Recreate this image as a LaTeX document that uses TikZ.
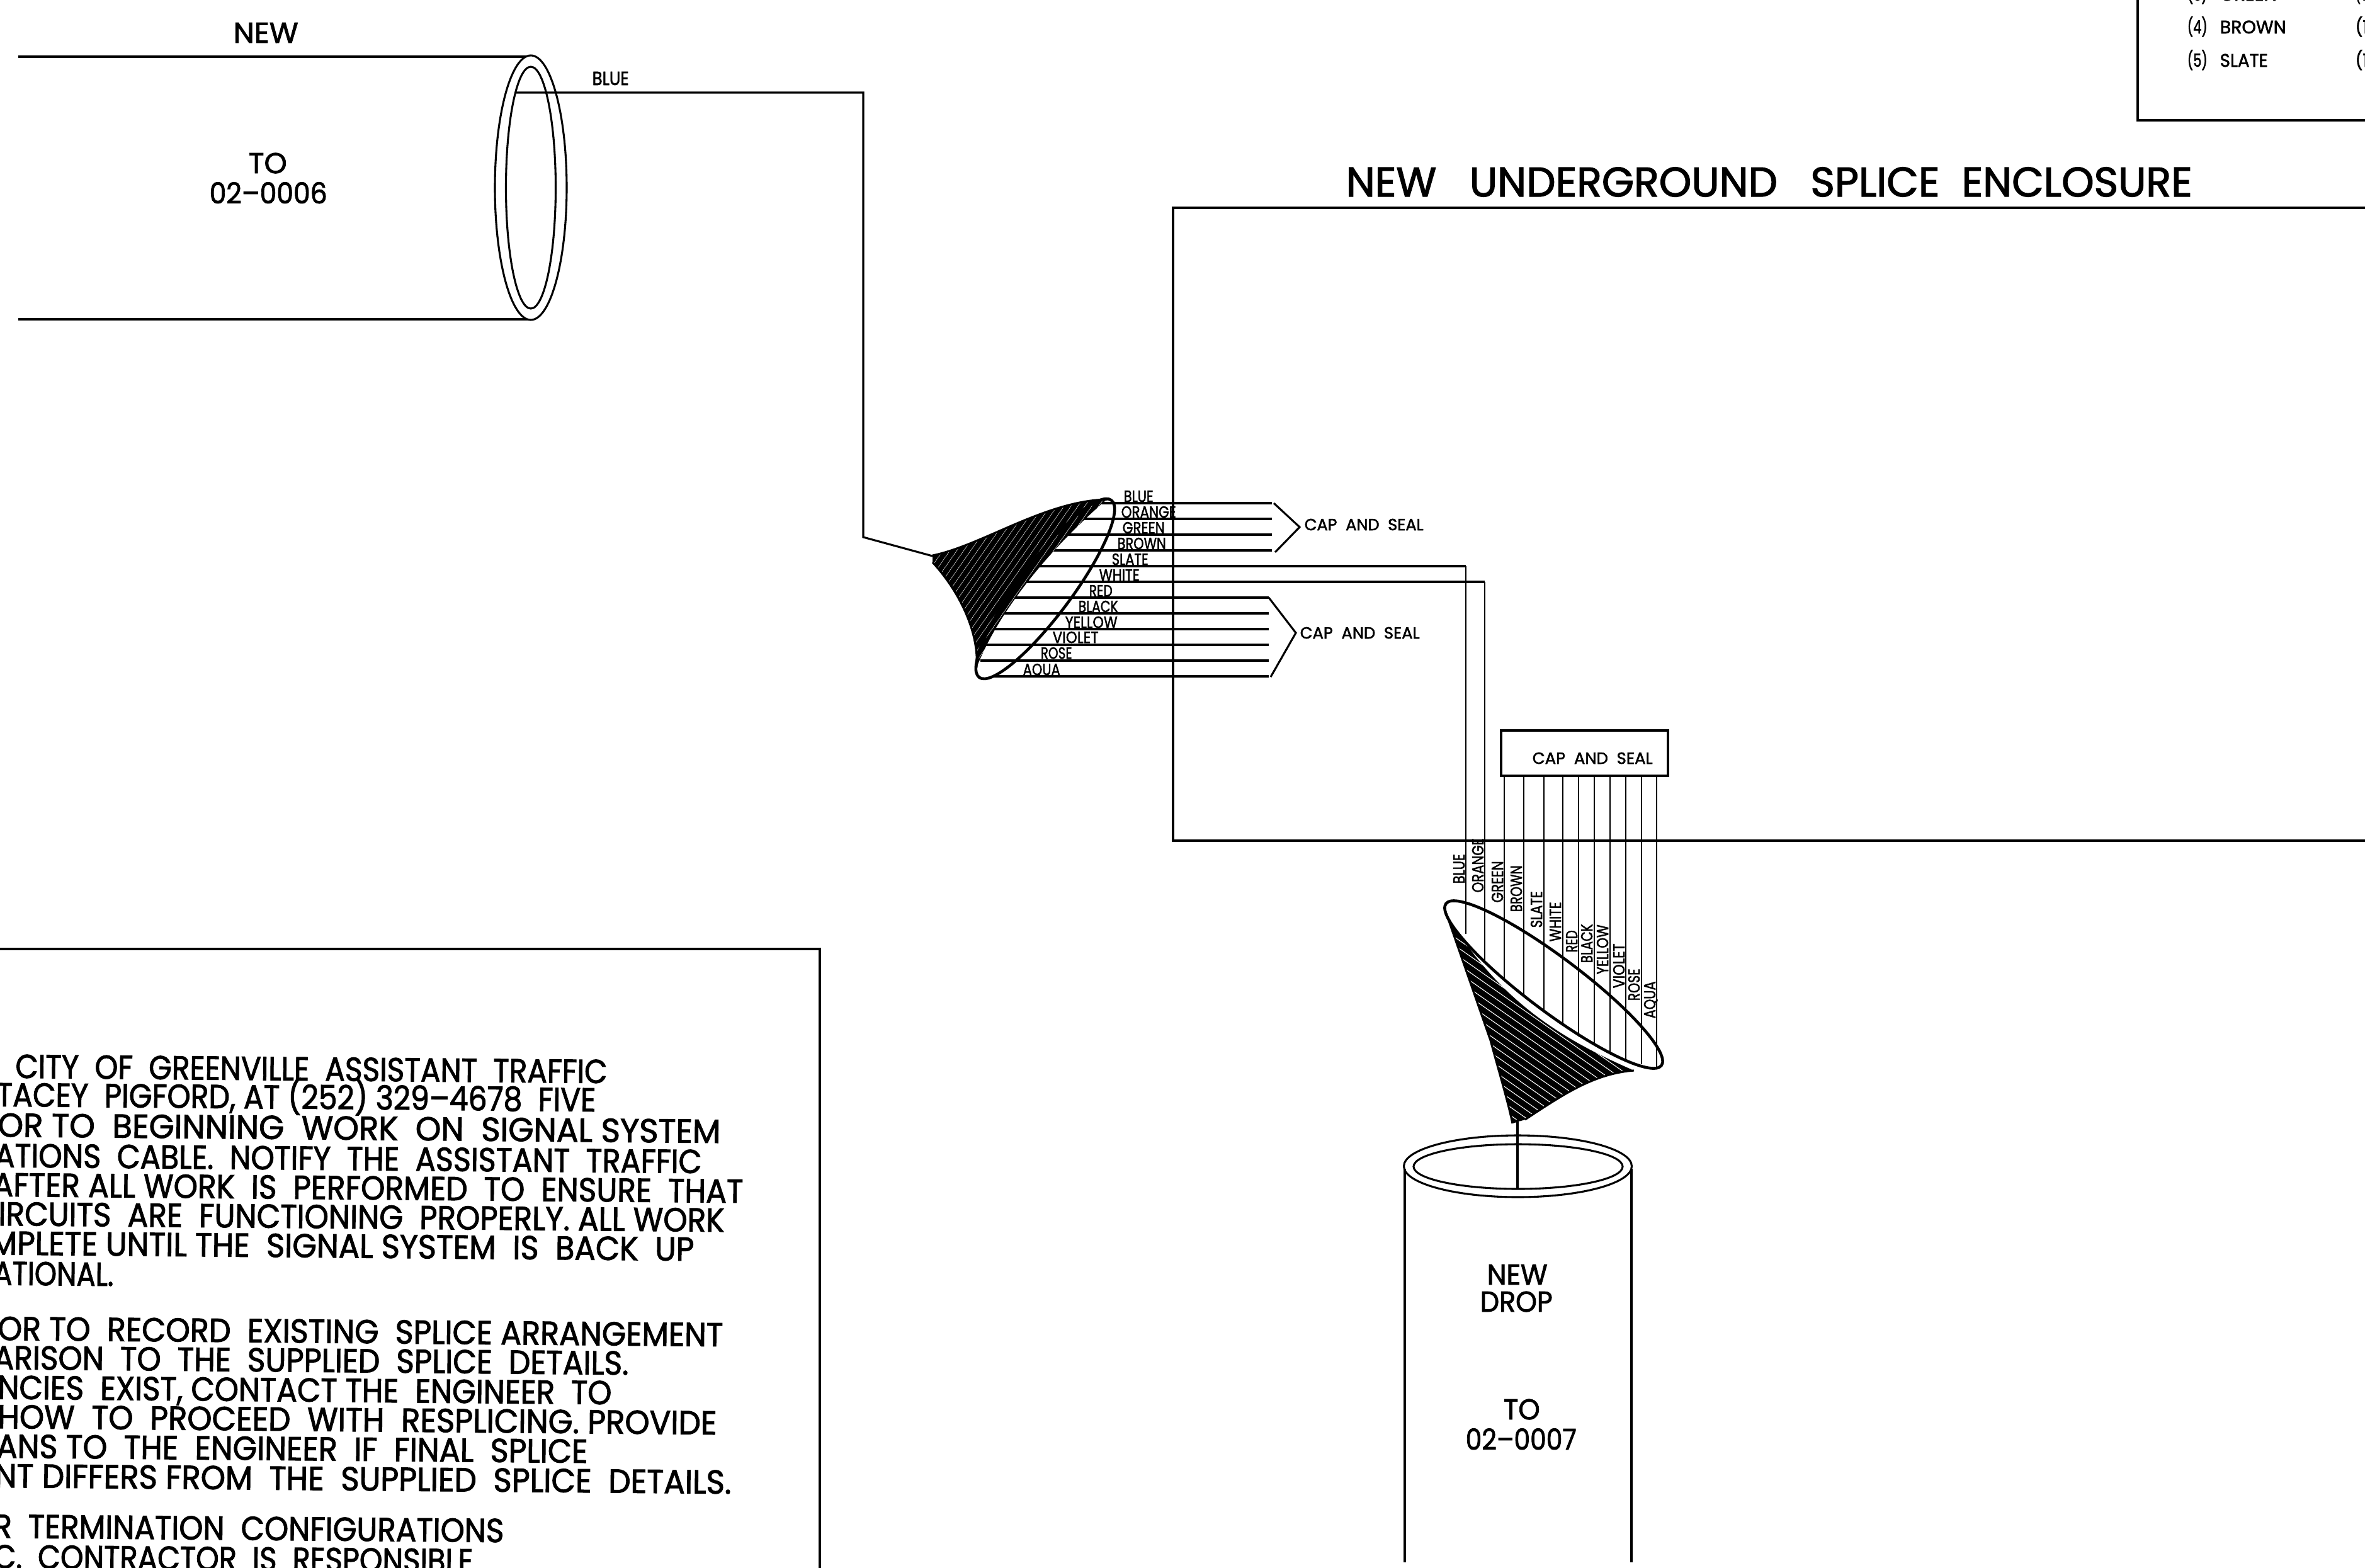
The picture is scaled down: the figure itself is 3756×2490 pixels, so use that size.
\documentclass[tikz,border=0pt]{standalone}
\usepackage{graphicx}
\usepackage{fontspec}
\setmainfont{Poppins}[FakeBold=2]
\newdimen\pxu
\pxu=0.01cm
% squeeze a text to a width given in reference pixels
\newcommand{\fitw}[2]{\resizebox{#1\pxu}{\height}{#2}}
\tikzset{
  wire/.style={line width=0.88pt},
  thinwire/.style={line width=0.65pt},
  heavy/.style={line width=1.3pt},
  hatchline/.style={white,line width=0.13pt},
  txt/.style={inner sep=0pt,anchor=base west},
  tag/.style={txt,font=\fontsize{7.3}{8}\selectfont},
  sealtext/.style={txt,font=\fontsize{7.3}{8}\selectfont},
  big/.style={txt,font=\fontsize{13}{15}\selectfont},
  legend/.style={txt,font=\fontsize{8.2}{10}\selectfont},
  notes/.style={inner sep=0pt,anchor=base east,rotate=-0.5,font=\fontsize{15}{18}\selectfont},
}
\begin{document}
\begin{tikzpicture}[x=0.01cm,y=-0.01cm]
      \useasboundingbox (0,0) rectangle (3756,2490);
      \begin{scope}
      \clip (0,0) rectangle (3756,2490);

      % cable to 02-0006
      \draw [wire] (29,90) -- (843,90);
      \draw [wire] (29,507) -- (843,507);
      \draw [wire,fill=white] (843,298) circle [x radius=57,y radius=210];
      \draw [wire] (843,298) circle [x radius=39.5,y radius=192];
      \coordinate (bluestart) at (820,147);
      \coordinate (bluecorner) at (1371,147);
      \coordinate (blueknee) at (1371,853);
      \coordinate (fanonetip) at (1481,883);
      \draw [wire] (bluestart) -- (bluecorner) -- (blueknee) -- (fanonetip);
      \node [big] (tubenew) at (370,68) {\fitw{103}{NEW}};
      \node [big] (tubeto) at (394,275) {\fitw{61}{TO}};
      \node [big] (tubeid) at (332,323) {\fitw{187}{02--0006}};
      \node [tag,font=\fontsize{8.6}{10}\selectfont] (tubeblue) at (940,135) {\fitw{58}{BLUE}};

      % enclosure
      \draw [wire] (3756,330) -- (1863,330) -- (1863,1335) -- (3756,1335);
      \node [txt,font=\fontsize{18.7}{22}\selectfont] (enctitle) at (2137,312) {\fitw{1344}{NEW\ \ \ UNDERGROUND\ \ \ SPLICE\ \ ENCLOSURE}};

      % fan at the enclosure wall
      \draw [wire] (1710,824) -- (2020,824);
      \draw [wire] (1685,849) -- (2020,849);
      \draw [wire] (1662,874) -- (2020,874);
      \draw [wire] (1750,799) -- (2020,799);
      \foreach \y/\xs in {949/1605,974/1591,999/1576,1024/1564,1049/1557,1074/1576}
        \draw [wire] (\xs,\y) -- (2015,\y);
      \coordinate (slatecorner) at (2328,899);
      \coordinate (whitecorner) at (2358,924);
      \coordinate (slateend) at (2328,1483);
      \coordinate (whiteend) at (2358,1530);
      \draw [wire] (1643,899) -- (slatecorner);
      \draw [wire] (1624,924) -- (whitecorner);
      \draw [thinwire] (slatecorner) -- (slateend);
      \draw [thinwire] (whitecorner) -- (whiteend);
      \begin{scope}
        \path [clip] (1481,882) .. controls (1560,866) and (1660,795) .. (1758,793)
          .. controls (1680,860) and (1590,960) .. (1551,1060)
          .. controls (1555,1000) and (1520,935) .. (1481,893) -- cycle;
        \fill (1470,780) rectangle (1770,1070);
        \foreach \k in {0,...,20}
          \draw [hatchline] (1329+\k*11,1100) -- ++(220,-315);
      \end{scope}
      \draw [wire] (1481,882) .. controls (1560,866) and (1660,795) .. (1758,793);
      \draw [wire] (1481,893) .. controls (1520,935) and (1555,1000) .. (1551,1060);
      \draw [heavy] (1660,935) circle [x radius=175.5,y radius=42,rotate=53.3];
      \draw [wire] (2023,799) -- (2064,837) -- (2025,877);
      \draw [wire] (2015,949) -- (2058,1005) -- (2018,1075);
      \node [sealtext] (capone) at (2071,842) {\fitw{189}{CAP\ \ AND\ \ SEAL}};
      \node [sealtext] (captwo) at (2064,1014) {\fitw{190}{CAP\ \ AND\ \ SEAL}};
      \foreach \name/\xs/\yb/\w in {BLUE/1784/797/47,ORANGE/1780/822/87,GREEN/1782/847/67,BROWN/1774/872/77,SLATE/1765/897/58,WHITE/1745/922/64,RED/1729/947/37,BLACK/1712/972/63,YELLOW/1691/997/83,VIOLET/1671/1021/73,ROSE/1652/1046/50,AQUA/1624/1072/59}
        \node [tag] (w\name) at (\xs,\yb) {\fitw{\w}{\name}};

      % cap and seal box
      \node [draw,wire,inner sep=0pt,minimum width=265*\pxu,minimum height=72*\pxu] (capbox) at (2516.5,1196) {};
      \node [sealtext] (capthree) at (2433,1213) {\fitw{191}{CAP\ \ AND\ \ SEAL}};

      % fan above the drop
      \foreach \x/\y in {2389/1554,2420/1581,2452/1605,2482/1628,2507/1646,2532/1659,2557/1672,2582/1684,2607/1690,2631/1695}
        \draw [thinwire] (\x,1232) -- (\x,\y);
      \begin{scope}
        \path [clip] (2297,1451) -- (2367,1652) .. controls (2380,1700) and (2395,1750) .. (2402,1784)
          -- (2422,1778) .. controls (2480,1740) and (2530,1705) .. (2595,1700)
          .. controls (2480,1650) and (2380,1590) .. (2297,1451) -- cycle;
        \fill (2280,1440) rectangle (2610,1790);
        \foreach \k in {0,...,21}
          \draw [white,line width=0.3pt] (2250,1420+\k*13) -- ++(450,315);
      \end{scope}
      \draw [wire] (2297,1451) -- (2367,1652) .. controls (2380,1700) and (2395,1750) .. (2402,1784);
      \draw [wire] (2422,1778) .. controls (2480,1740) and (2530,1705) .. (2595,1700);
      \draw [heavy] (2467.5,1563.5) circle [x radius=214,y radius=43,rotate=-36.9];
      \foreach \name/\x/\yb/\w in {BLUE/2326/1404/47,ORANGE/2356/1418/86,GREEN/2387/1434/66,BROWN/2417/1449/74,SLATE/2449/1474/58,WHITE/2479/1496/63,RED/2505/1513/35,BLACK/2529/1530/62,YELLOW/2554/1548/79,VIOLET/2580/1570/71,ROSE/2604/1590/51,AQUA/2629/1618/59}
        \node [tag,rotate=90] (d\name) at (\x,\yb) {\fitw{\w}{\name}};

      % drop cable to 02-0007
      \draw [wire] (2231,1856) -- (2231,2481);
      \draw [wire] (2591,1856) -- (2591,2481);
      \draw [wire] (2410.5,1852) circle [x radius=181,y radius=49];
      \draw [wire] (2411,1852.5) circle [x radius=166,y radius=35.5];
      \coordinate (droptop) at (2410,1778);
      \coordinate (dropend) at (2410,1887);
      \draw [wire] (droptop) -- (dropend);
      \node [big] (dropnew) at (2361,2040) {\fitw{96}{NEW}};
      \node [big] (dropword) at (2350,2083) {\fitw{115}{DROP}};
      \node [big] (dropto) at (2387,2254) {\fitw{58}{TO}};
      \node [big] (dropid) at (2327,2302) {\fitw{176}{02--0007}};

      % notes panel
      \draw [wire] (0,1507) -- (1302,1507) -- (1302,2490);
      \foreach \xe/\yb/\w/\line in {
        965/1720/940/{CITY\ \ OF\ \ GREENVILLE\ \ ASSISTANT\ \ TRAFFIC},
        947/1765/952/{TACEY\ \ PIGFORD, AT (252) 329--4678\ \ FIVE},
        1145/1815/1148/{OR TO\ \ BEGINNING\ \ WORK\ \ ON\ \ SIGNAL SYSTEM},
        1115/1863/1123/{ATIONS\ \ CABLE.\ \ NOTIFY\ \ THE\ \ ASSISTANT\ \ TRAFFIC},
        1181/1910/1192/{AFTER ALL WORK\ \ IS\ \ PERFORMED\ \ TO\ \ ENSURE\ \ THAT},
        1151/1956/1153/{IRCUITS\ \ ARE\ \ FUNCTIONING\ \ PROPERLY. ALL WORK},
        1103/2002/1118/{MPLETE UNTIL THE\ \ SIGNAL SYSTEM\ \ IS\ \ BACK\ \ UP},
        181/2042/191/{ATIONAL.},
        1149/2138/1152/{OR TO\ \ RECORD\ \ EXISTING\ \ SPLICE ARRANGEMENT},
        999/2183/1009/{ARISON\ \ TO\ \ THE\ \ SUPPLIED\ \ SPLICE\ \ DETAILS.},
        972/2230/975/{NCIES\ \ EXIST, CONTACT THE\ \ ENGINEER\ \ TO},
        1139/2278/1142/{HOW\ \ TO\ \ PROCEED\ \ WITH\ \ RESPLICING. PROVIDE},
        934/2323/939/{ANS TO\ \ THE\ \ ENGINEER\ \ IF\ \ FINAL\ \ SPLICE},
        1162/2372/1170/{NT DIFFERS FROM\ \ THE\ \ SUPPLIED\ \ SPLICE\ \ DETAILS.},
        801/2449/811/{R\ \ TERMINATION\ \ CONFIGURATIONS},
        752/2497/762/{C.\ \ CONTRACTOR\ \ IS\ \ RESPONSIBLE}}
        \node [notes] at (\xe,\yb) {\fitw{\w}{\line}};

      % wire colour table
      \draw [wire] (3395,0) -- (3395,191) -- (3756,191);
      \node [legend] (lthree) at (3473,1) {\fitw{32}{(3)}};
      \node [legend] (lgreen) at (3525,1) {\fitw{90}{GREEN}};
      \node [legend] (lfour) at (3473,53) {\fitw{32}{(4)}};
      \node [legend] (lbrown) at (3525,53) {\fitw{105}{BROWN}};
      \node [legend] (lfive) at (3473,106) {\fitw{32}{(5)}};
      \node [legend] (lslate) at (3525,106) {\fitw{76}{SLATE}};
      \node [legend] (lnine) at (3740,1) {\fitw{20}{(9}};
      \node [legend] (lten) at (3740,53) {\fitw{20}{(1}};
      \node [legend] (leleven) at (3740,106) {\fitw{20}{(1}};
      \end{scope}
      \end{tikzpicture}
\end{document}
